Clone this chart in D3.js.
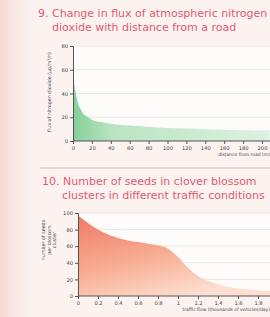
<!DOCTYPE html>
<html>
<head>
<meta charset="utf-8">
<script src="https://cdn.jsdelivr.net/npm/d3@7"></script>
<style>
  body { margin: 0; background: #fcf3f1; }
  svg { display: block; }
</style>
</head>
<body>
<svg id="chart" width="270" height="317"></svg>
<script>
// chart 9: NO2 flux vs distance from road
const distTicks = [0, 20, 40, 60, 80, 100, 120, 140, 160, 180, 200];
const fluxTicks = [0, 20, 40, 60, 80];
const distance = [0, 2, 4, 6, 8, 10, 14, 20, 30, 40, 60, 80, 100, 120, 140, 160, 180, 200, 208];
const flux =     [56, 44, 36, 30, 27, 24, 21, 18, 16, 14.5, 13, 12, 11, 10.5, 10, 9.5, 9, 9, 9];

// chart 10: seeds in clover clusters vs traffic flow
const trafficTicks = [0, 0.2, 0.4, 0.6, 0.8, 1, 1.2, 1.4, 1.6, 1.8];
const seedTicks = [0, 20, 40, 60, 80, 100];
const traffic = [0, 0.1, 0.2, 0.3, 0.4, 0.5, 0.6, 0.7, 0.8, 0.9, 1.0, 1.1, 1.2, 1.3, 1.4, 1.5, 1.6, 1.7, 1.8, 1.92];
const seeds =   [97, 88, 80, 74, 70, 67, 65, 63, 61, 57, 47, 34, 24, 18, 14, 11, 9, 8, 7, 6];

const svg = d3.select('#chart');
const defs = svg.append('defs');

// faint pink wash on the left, like the poster behind
const wash = defs.append('linearGradient').attr('id', 'wash');
wash.append('stop').attr('offset', '0%').attr('stop-color', '#f6d9d2');
wash.append('stop').attr('offset', '100%').attr('stop-color', '#fcf3f1').attr('stop-opacity', 0);
svg.append('rect').attr('width', 45).attr('height', 317).attr('fill', 'url(#wash)');

const green = defs.append('linearGradient').attr('id', 'green');
green.append('stop').attr('offset', '0%').attr('stop-color', '#86cf98');
green.append('stop').attr('offset', '20%').attr('stop-color', '#b9e4c2');
green.append('stop').attr('offset', '100%').attr('stop-color', '#dcf2e0');

const red = defs.append('linearGradient').attr('id', 'red')
  .attr('x1', 0).attr('y1', 0).attr('x2', 0.6).attr('y2', 1);
red.append('stop').attr('offset', '0%').attr('stop-color', '#ef7a64');
red.append('stop').attr('offset', '55%').attr('stop-color', '#f8ae94');
red.append('stop').attr('offset', '100%').attr('stop-color', '#fde0d2');

const titleColor = '#e05a70';
const font = 'DejaVu Sans, sans-serif';

function title(lines, x0, x1, y) {
  svg.append('text').attr('x', x0).attr('y', y)
    .attr('fill', titleColor).attr('font-family', font).attr('font-size', 11)
    .text(lines[0]);
  svg.append('text').attr('x', x1).attr('y', y + 14)
    .attr('fill', titleColor).attr('font-family', font).attr('font-size', 11)
    .text(lines[1]);
}

function panel(cfg) {
  const { xs, ys, xTicks, yTicks, xFmt, xVals, yVals, fill, xLabel, yLabel } = cfg;
  const g = svg.append('g');

  g.append('rect')
    .attr('x', xs.range()[0]).attr('y', ys.range()[1])
    .attr('width', 270 - xs.range()[0]).attr('height', ys.range()[0] - ys.range()[1])
    .attr('fill', '#fefcfb');

  g.selectAll('line.grid').data(yTicks.slice(1)).enter().append('line')
    .attr('x1', xs.range()[0]).attr('x2', 270)
    .attr('y1', d => ys(d)).attr('y2', d => ys(d))
    .attr('stroke', '#e6e1e0').attr('stroke-width', 0.8);

  const area = d3.area()
    .x((d, i) => xs(xVals[i]))
    .y0(ys(0))
    .y1(d => ys(d))
    .curve(d3.curveMonotoneX);

  g.append('path').datum(yVals).attr('d', area).attr('fill', fill);

  const xAxis = g.append('g')
    .attr('transform', `translate(0,${ys(0)})`)
    .call(d3.axisBottom(xs).tickValues(xTicks).tickFormat(xFmt).tickSize(3).tickPadding(2));
  const yAxis = g.append('g')
    .attr('transform', `translate(${xs.range()[0]},0)`)
    .call(d3.axisLeft(ys).tickValues(yTicks).tickSize(3).tickPadding(2));

  [xAxis, yAxis].forEach(a => {
    a.select('.domain').attr('stroke', '#555').attr('stroke-width', 1);
    a.selectAll('.tick line').attr('stroke', '#555');
    a.selectAll('text').attr('font-size', 5.2).attr('fill', '#444').attr('font-family', font);
  });
  xAxis.select('.domain').attr('d', `M${xs.range()[0]},0H270`);

  g.append('text')
    .attr('x', 270).attr('y', ys(0) + 15)
    .attr('text-anchor', 'end')
    .attr('font-size', 4.5).attr('fill', '#444').attr('font-family', font)
    .text(xLabel);

  yLabel.lines.forEach((t, i) => {
    g.append('text')
      .attr('transform', `translate(${yLabel.x + i * 5.5},${yLabel.y}) rotate(-90)`)
      .attr('text-anchor', 'middle')
      .attr('font-size', 4.8).attr('fill', '#444').attr('font-family', font)
      .text(t);
  });
}

// --- chart 9 ---
title(['9. Change in flux of atmospheric nitrogen', 'dioxide with distance from a road'], 38, 52, 17);

const x9 = d3.scaleLinear().domain([0, 200]).range([73, 262]);
const y9 = d3.scaleLinear().domain([0, 80]).range([141, 46]);
panel({
  xs: x9, ys: y9, xTicks: distTicks, yTicks: fluxTicks, xFmt: d3.format('d'),
  xVals: distance, yVals: flux, fill: 'url(#green)',
  xLabel: 'distance from road (m)',
  yLabel: { x: 51, y: 92, lines: ['flux of nitrogen dioxide (µg/m²/h)'] }
});

// separator
svg.append('line').attr('x1', 40).attr('x2', 270).attr('y1', 168).attr('y2', 168)
  .attr('stroke', '#b9b3b2').attr('stroke-width', 0.8);

// --- chart 10 ---
title(['10. Number of seeds in clover blossom', 'clusters in different traffic conditions'], 42, 62, 185);

const x10 = d3.scaleLinear().domain([0, 1.8]).range([78, 258]);
const y10 = d3.scaleLinear().domain([0, 100]).range([296, 213]);
panel({
  xs: x10, ys: y10, xTicks: trafficTicks, yTicks: seedTicks, xFmt: d => d,
  xVals: traffic, yVals: seeds, fill: 'url(#red)',
  xLabel: 'traffic flow (thousands of vehicles/day)',
  yLabel: { x: 45, y: 240, lines: ['number of seeds', 'per blossom', 'cluster'] }
});
</script>
</body>
</html>
